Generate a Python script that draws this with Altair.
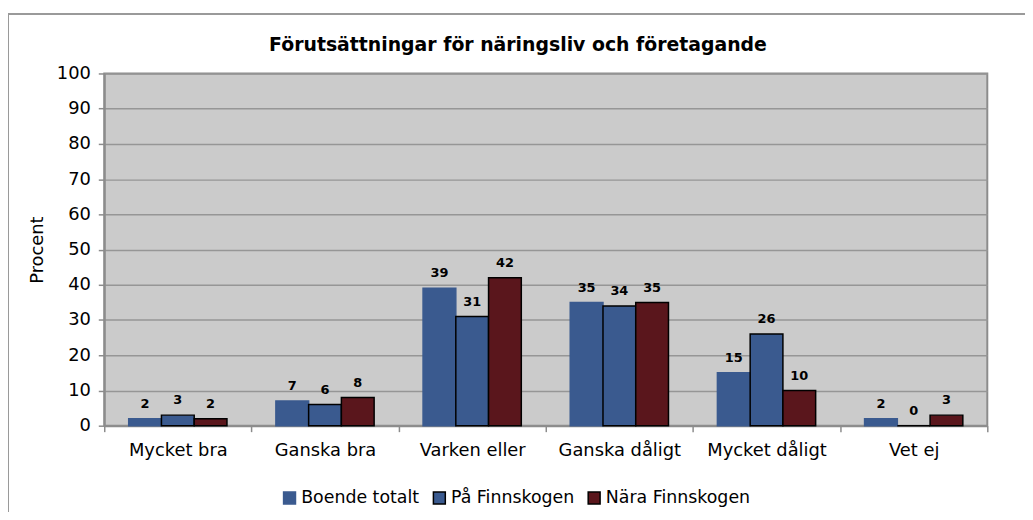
import altair as alt
import pandas as pd

categories = ["Mycket bra", "Ganska bra", "Varken eller", "Ganska dåligt", "Mycket dåligt", "Vet ej"]
series = ["Boende totalt", "På Finnskogen", "Nära Finnskogen"]
boende_totalt = [2, 7, 39, 35, 15, 2]
paa_finnskogen = [3, 6, 31, 34, 26, 0]
naera_finnskogen = [2, 8, 42, 35, 10, 3]
y_ticks = [0, 10, 20, 30, 40, 50, 60, 70, 80, 90, 100]
fill_colors = ["#3A5A8F", "#3A5A8F", "#5A161C"]
stroke_colors = ["#3A5A8F", "#000000", "#000000"]

rows = []
for s, vals in zip(series, [boende_totalt, paa_finnskogen, naera_finnskogen]):
    for c, v in zip(categories, vals):
        rows.append({"kategori": c, "serie": s, "procent": v})
df = pd.DataFrame(rows)

FONT = "DejaVu Sans"

x_enc = alt.X(
    "kategori:N",
    sort=categories,
    scale=alt.Scale(paddingInner=0, paddingOuter=0),
    axis=alt.Axis(title=None, labelAngle=0, tickBand="extent", tickSize=6,
                  labelPadding=10, grid=False, domainColor="#8C8C8C",
                  tickColor="#8C8C8C", domainWidth=2, tickWidth=1.5),
)
xo_enc = alt.XOffset("serie:N", sort=series,
                     scale=alt.Scale(domain=series, paddingInner=0, paddingOuter=0.747))
y_enc = alt.Y(
    "procent:Q",
    scale=alt.Scale(domain=[0, 100], nice=False),
    axis=alt.Axis(title="Procent", values=y_ticks, tickCount=11, labelOverlap=False,
                  tickSize=6, labelPadding=8, grid=True, gridColor="#969696",
                  gridWidth=1.5, domainColor="#8C8C8C", tickColor="#8C8C8C",
                  domainWidth=2, tickWidth=1.5, titleFontWeight="normal",
                  titleFontSize=18, titlePadding=10, titleFont=FONT,
                  titleColor="#000000"),
)

legend = alt.Legend(title=None, orient="none", legendX=178, legendY=419,
                    direction="horizontal", symbolType="square", symbolSize=144,
                    symbolStrokeWidth=1.5, labelFont=FONT, labelFontSize=17.5,
                    labelColor="#000000", columnPadding=10, labelOffset=3)

bars = alt.Chart(df).mark_bar(strokeWidth=1.5).encode(
    x=x_enc,
    xOffset=xo_enc,
    y=y_enc,
    color=alt.Color("serie:N", sort=series,
                    scale=alt.Scale(domain=series, range=fill_colors), legend=legend),
    stroke=alt.Stroke("serie:N", sort=series,
                      scale=alt.Scale(domain=series, range=stroke_colors), legend=legend),
)

labels = alt.Chart(df).mark_text(
    baseline="bottom", dy=-8, fontWeight="bold", fontSize=13, font=FONT, color="#000000"
).encode(
    x=x_enc,
    xOffset=xo_enc,
    y=y_enc,
    text="procent:Q",
)

frame = alt.Chart(alt.Data(values=[{}])).mark_rect(
    fill=None, stroke="#9A9A9A", strokeWidth=2
).encode(
    x=alt.value(-97), x2=alt.value(960), y=alt.value(-60), y2=alt.value(470)
)

chart = alt.layer(frame, bars, labels).properties(
    width=890,
    height=355,
    title=alt.TitleParams(
        "Förutsättningar för näringsliv och företagande",
        fontSize=19, fontWeight="bold", font=FONT, anchor="middle", frame="group",
        dx=-28, offset=-42, color="#000000",
    ),
    autosize=alt.AutoSizeParams(type="none"),
    padding={"left": 97, "top": 64, "right": 38, "bottom": 85},
).configure_view(
    fill="#CBCBCB", stroke="#8C8C8C", strokeWidth=2
).configure_axis(
    labelFont=FONT, labelFontSize=18, labelColor="#000000"
)

chart.save("out.html", embed_options={"renderer": "svg", "actions": False})
